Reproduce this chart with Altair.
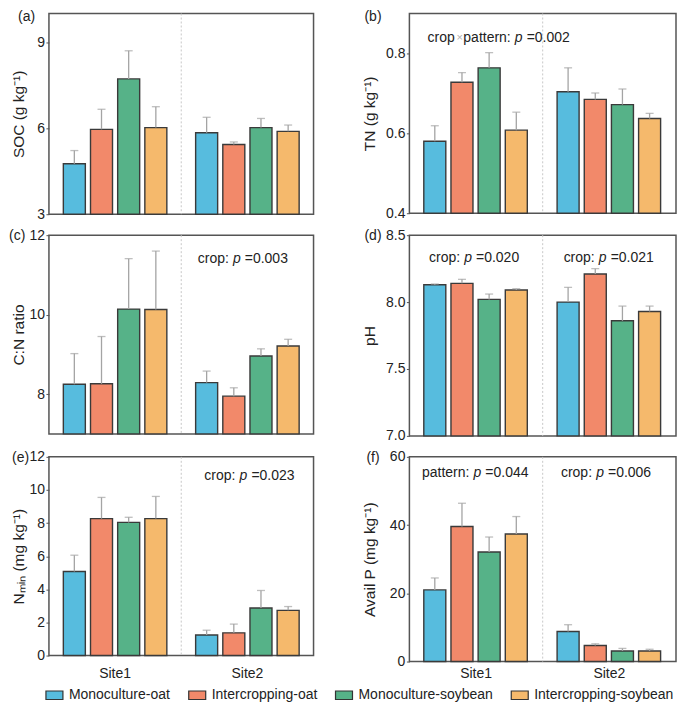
import altair as alt
import pandas as pd

FONT = "Liberation Sans"
TXT = "#222222"

sites = ["Site1", "Site2"]
treatments = ["Monoculture-oat", "Intercropping-oat", "Monoculture-soybean", "Intercropping-soybean"]
colors = ["#57BCDE", "#F2896A", "#56B288", "#F5B96C"]

# values: Site1 (4 treatments) then Site2 (4 treatments); "upper" = mean + SE
soc_mean = [4.76, 5.96, 7.72, 6.02, 5.84, 5.43, 6.02, 5.89]
soc_upper = [5.22, 6.66, 8.70, 6.75, 6.38, 5.52, 6.34, 6.11]
tn_mean = [0.580, 0.728, 0.764, 0.608, 0.704, 0.685, 0.672, 0.637]
tn_upper = [0.619, 0.752, 0.802, 0.653, 0.764, 0.701, 0.711, 0.650]
cn_mean = [8.25, 8.26, 10.14, 10.13, 8.29, 7.95, 8.96, 9.21]
cn_upper = [9.02, 9.45, 11.41, 11.60, 8.58, 8.16, 9.14, 9.38]
ph_mean = [8.13, 8.14, 8.02, 8.09, 8.00, 8.21, 7.86, 7.93]
ph_upper = [8.135, 8.17, 8.06, 8.10, 8.11, 8.25, 7.97, 7.97]
nmin_mean = [5.08, 8.27, 8.04, 8.27, 1.24, 1.37, 2.87, 2.73]
nmin_upper = [6.06, 9.55, 8.35, 9.61, 1.53, 1.90, 3.93, 2.96]
ap_mean = [21.0, 39.6, 32.1, 37.4, 8.8, 4.7, 3.1, 3.1]
ap_upper = [24.5, 46.4, 36.5, 42.5, 10.8, 5.2, 3.85, 3.6]

# annotations: (site, position within site band, y value, prefix, suffix)
ann_b = [("Site1", 0.82, 0.838, "crop\u00d7pattern:", "=0.002")]
ann_c = [("Site2", 0.42, 11.40, "crop:", "=0.003")]
ann_d = [("Site1", 0.44, 8.326, "crop:", "=0.020"), ("Site2", 0.45, 8.326, "crop:", "=0.021")]
ann_e = [("Site2", 0.47, 10.85, "crop:", "=0.023")]
ann_f = [("Site1", 0.51, 55.4, "pattern:", "=0.044"), ("Site2", 0.43, 55.4, "crop:", "=0.006")]


def make_df(mean, upper):
    return pd.DataFrame({
        "site": [sites[i // 4] for i in range(8)],
        "treat": [treatments[i % 4] for i in range(8)],
        "mean": mean,
        "upper": upper,
    })


legend = alt.Legend(
    orient="none", legendX=-4, legendY=673, direction="horizontal", columns=4,
    title=None, symbolType="M-1,-0.5H1V0.5H-1Z", symbolSize=289,
    symbolStrokeColor="#333333", symbolStrokeWidth=1.2, symbolOpacity=1,
    labelFontSize=14, labelFont=FONT, labelColor=TXT, labelOffset=5,
    columnPadding=15, labelLimit=300, padding=0,
)


def panel(mean, upper, dom, ticks, fmt, ytitle, label, label_dx, label_dy, width, height,
          title_x, anns, show_x=False, x_pad=0):
    df = make_df(mean, upper)
    xscale = alt.Scale(domain=sites, paddingInner=0, paddingOuter=0)
    if show_x:
        xaxis = alt.Axis(title=None, ticks=False, domain=False, labelAngle=0,
                         labelPadding=x_pad, labelFontSize=14)
    else:
        xaxis = None
    yscale = alt.Scale(domain=dom, zero=False, nice=False)
    yaxis = alt.Axis(values=ticks, format=fmt, title=ytitle, titleX=title_x,
                     grid=False, domain=False, tickSize=3, labelPadding=1.5)

    def X(bp=0.5):
        return alt.X("site:N", scale=xscale, axis=xaxis, bandPosition=bp)

    def Y(field):
        return alt.Y(field, type="quantitative", scale=yscale, axis=yaxis)

    xo = alt.XOffset("treat:N", scale=alt.Scale(domain=treatments, paddingInner=0.19, paddingOuter=0.53))
    base = alt.Chart(df)
    bars = base.mark_bar(stroke="#3a3a3a", strokeWidth=1.4).encode(
        x=alt.X("site:N", scale=xscale, axis=xaxis), xOffset=xo,
        y=Y("mean"), y2=alt.datum(dom[0]),
        color=alt.Color("treat:N", scale=alt.Scale(domain=treatments, range=colors), legend=legend),
    )
    err = base.mark_rule(color="#a4a4a4", strokeWidth=1.3).encode(
        x=alt.X("site:N", scale=xscale, axis=xaxis), xOffset=xo, y=Y("mean"), y2="upper:Q")
    cap = base.mark_tick(color="#a4a4a4", thickness=1.3, size=8, orient="horizontal").encode(
        x=alt.X("site:N", scale=xscale, axis=xaxis), xOffset=xo, y=Y("upper"))
    div = alt.Chart(pd.DataFrame({"site": ["Site2"]})).mark_rule(
        color="#c8c8c8", strokeWidth=1, strokeDash=[2, 2]).encode(x=X(0))
    layers = [div, bars, err, cap]
    for site, bp, yv, pre, suf in anns:
        adf = pd.DataFrame({"site": [site], "y": [yv], "suf": [suf]})
        ab = alt.Chart(adf)
        common = dict(font=FONT, color=TXT, baseline="middle")
        # prefix pieces laid out right-to-left from the italic "p"
        if "\u00d7" in pre:
            left_word, right_word = pre.split("\u00d7")
            pieces = [(right_word, "right", -8, TXT, 14),
                      ("\u00d7", "center", -59, "#b0b0b0", 11),
                      (left_word, "right", -64, TXT, 14)]
        else:
            pieces = [(pre, "right", -8, TXT, 14)]
        for txt, al, dxx, col, fs in pieces:
            layers.append(ab.mark_text(align=al, dx=dxx, font=FONT, fontSize=fs, color=col,
                                       baseline="middle").encode(x=X(bp), y=Y("y"), text=alt.value(txt)))
        layers.append(ab.mark_text(align="center", dx=0, fontStyle="italic", fontSize=14, **common).encode(
            x=X(bp), y=Y("y"), text=alt.value("p")))
        layers.append(ab.mark_text(align="left", dx=8, fontSize=14, **common).encode(
            x=X(bp), y=Y("y"), text="suf:N"))
    return alt.layer(*layers).properties(
        width=width, height=height,
        title=alt.TitleParams(label, anchor="start", frame="group", dx=label_dx, dy=label_dy,
                              offset=0, baseline="middle", orient="top"),
    )


LW, RW = 265, 267
pa = panel(soc_mean, soc_upper, [3, 10], [3, 6, 9], "d", "SOC (g kg\u207b\u00b9)", "(a)", -31, 18,
           LW, 201, -22.5, [])
pb = panel(tn_mean, tn_upper, [0.4, 0.9], [0.4, 0.6, 0.8], ".1f", "TN (g kg\u207b\u00b9)", "(b)", -45, 18,
           RW, 200, -32, ann_b)
pc = panel(cn_mean, cn_upper, [7, 12], [8, 10, 12], "d", "C:N ratio", "(c)", -40, 22,
           LW, 199, -22.5, ann_c)
pd_ = panel(ph_mean, ph_upper, [7.0, 8.5], [7.0, 7.5, 8.0, 8.5], ".1f", "pH", "(d)", -45, 22,
            RW, 201, -32, ann_d)
pe = panel(nmin_mean, nmin_upper, [0, 12], [0, 2, 4, 6, 8, 10, 12], "d", "N\u2098\u1d62\u2099 (mg kg\u207b\u00b9)",
           "(e)", -37, 22, LW, 199, -22.5, ann_e, show_x=True, x_pad=11)
pf = panel(ap_mean, ap_upper, [0, 60], [0, 20, 40, 60], "d", "Avail P (mg kg\u207b\u00b9)", "(f)", -43, 22,
           RW, 205, -32, ann_f, show_x=True, x_pad=5)

chart = alt.concat(
    pa, pb, pc, pd_, pe, pf, columns=2, bounds="flush",
    spacing=alt.RowColnumber(row=21, column=96),
).properties(padding=0).configure(
    font=FONT
).configure_view(
    stroke="#555555", strokeWidth=1.5
).configure_axis(
    labelFont=FONT, labelFontSize=14, labelColor=TXT,
    titleFont=FONT, titleFontSize=15.5, titleFontWeight="normal", titleColor=TXT,
    tickColor="#555555", tickWidth=1,
).configure_title(
    font=FONT, fontSize=14, fontWeight="normal", color=TXT,
)

chart.save("out.html", embed_options={"renderer": "svg", "actions": False})
